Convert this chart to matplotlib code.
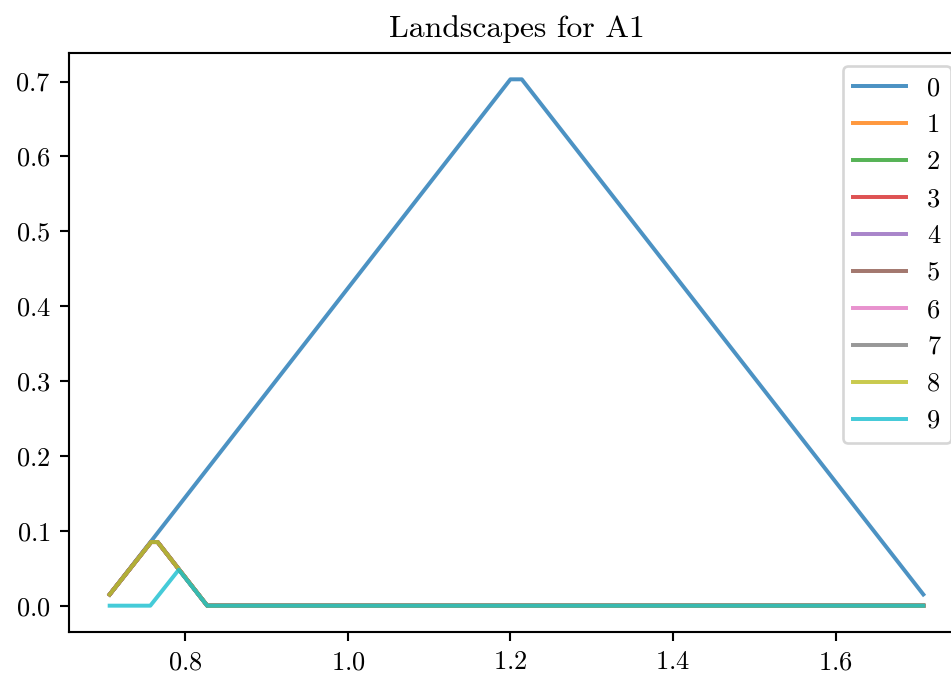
import matplotlib
matplotlib.use("Agg")
from matplotlib import pyplot as plt

plt.rcParams['font.family'] = ['cmr10', 'DejaVu Sans']
plt.rcParams['mathtext.fontset'] = 'cm'
plt.rcParams['axes.formatter.use_mathtext'] = True

# landscape values
x0 = [0.707, 1.200, 1.214, 1.708]
y0 = [0.015, 0.703, 0.703, 0.015]

x_mid = [0.707, 0.758, 0.766, 0.827, 1.708]
y_mid = [0.015, 0.085, 0.085, 0.0, 0.0]

x9 = [0.707, 0.757, 0.792, 0.827, 1.708]
y9 = [0.0, 0.0, 0.048, 0.0, 0.0]

labels = [str(i) for i in range(10)]
series = [(x0, y0)] + [(x_mid, y_mid)] * 8 + [(x9, y9)]

dpi = 190
fig = plt.figure(figsize=(951 / dpi, 677 / dpi), dpi=dpi)
ax = fig.add_axes([69 / 951, 45 / 677, 895 / 951, 579 / 677])

for (xs, ys), lab in zip(series, labels):
    ax.plot(xs, ys, label=lab, alpha=0.8)

ax.set_xticks([0.8, 1.0, 1.2, 1.4, 1.6])
ax.set_yticks([0.0, 0.1, 0.2, 0.3, 0.4, 0.5, 0.6, 0.7])
ax.tick_params(labelsize=10)
ax.set_title('Landscapes for A1', fontsize=12)
ax.legend(loc='upper right', fontsize=10)

fig.savefig('out.png', dpi=dpi)
